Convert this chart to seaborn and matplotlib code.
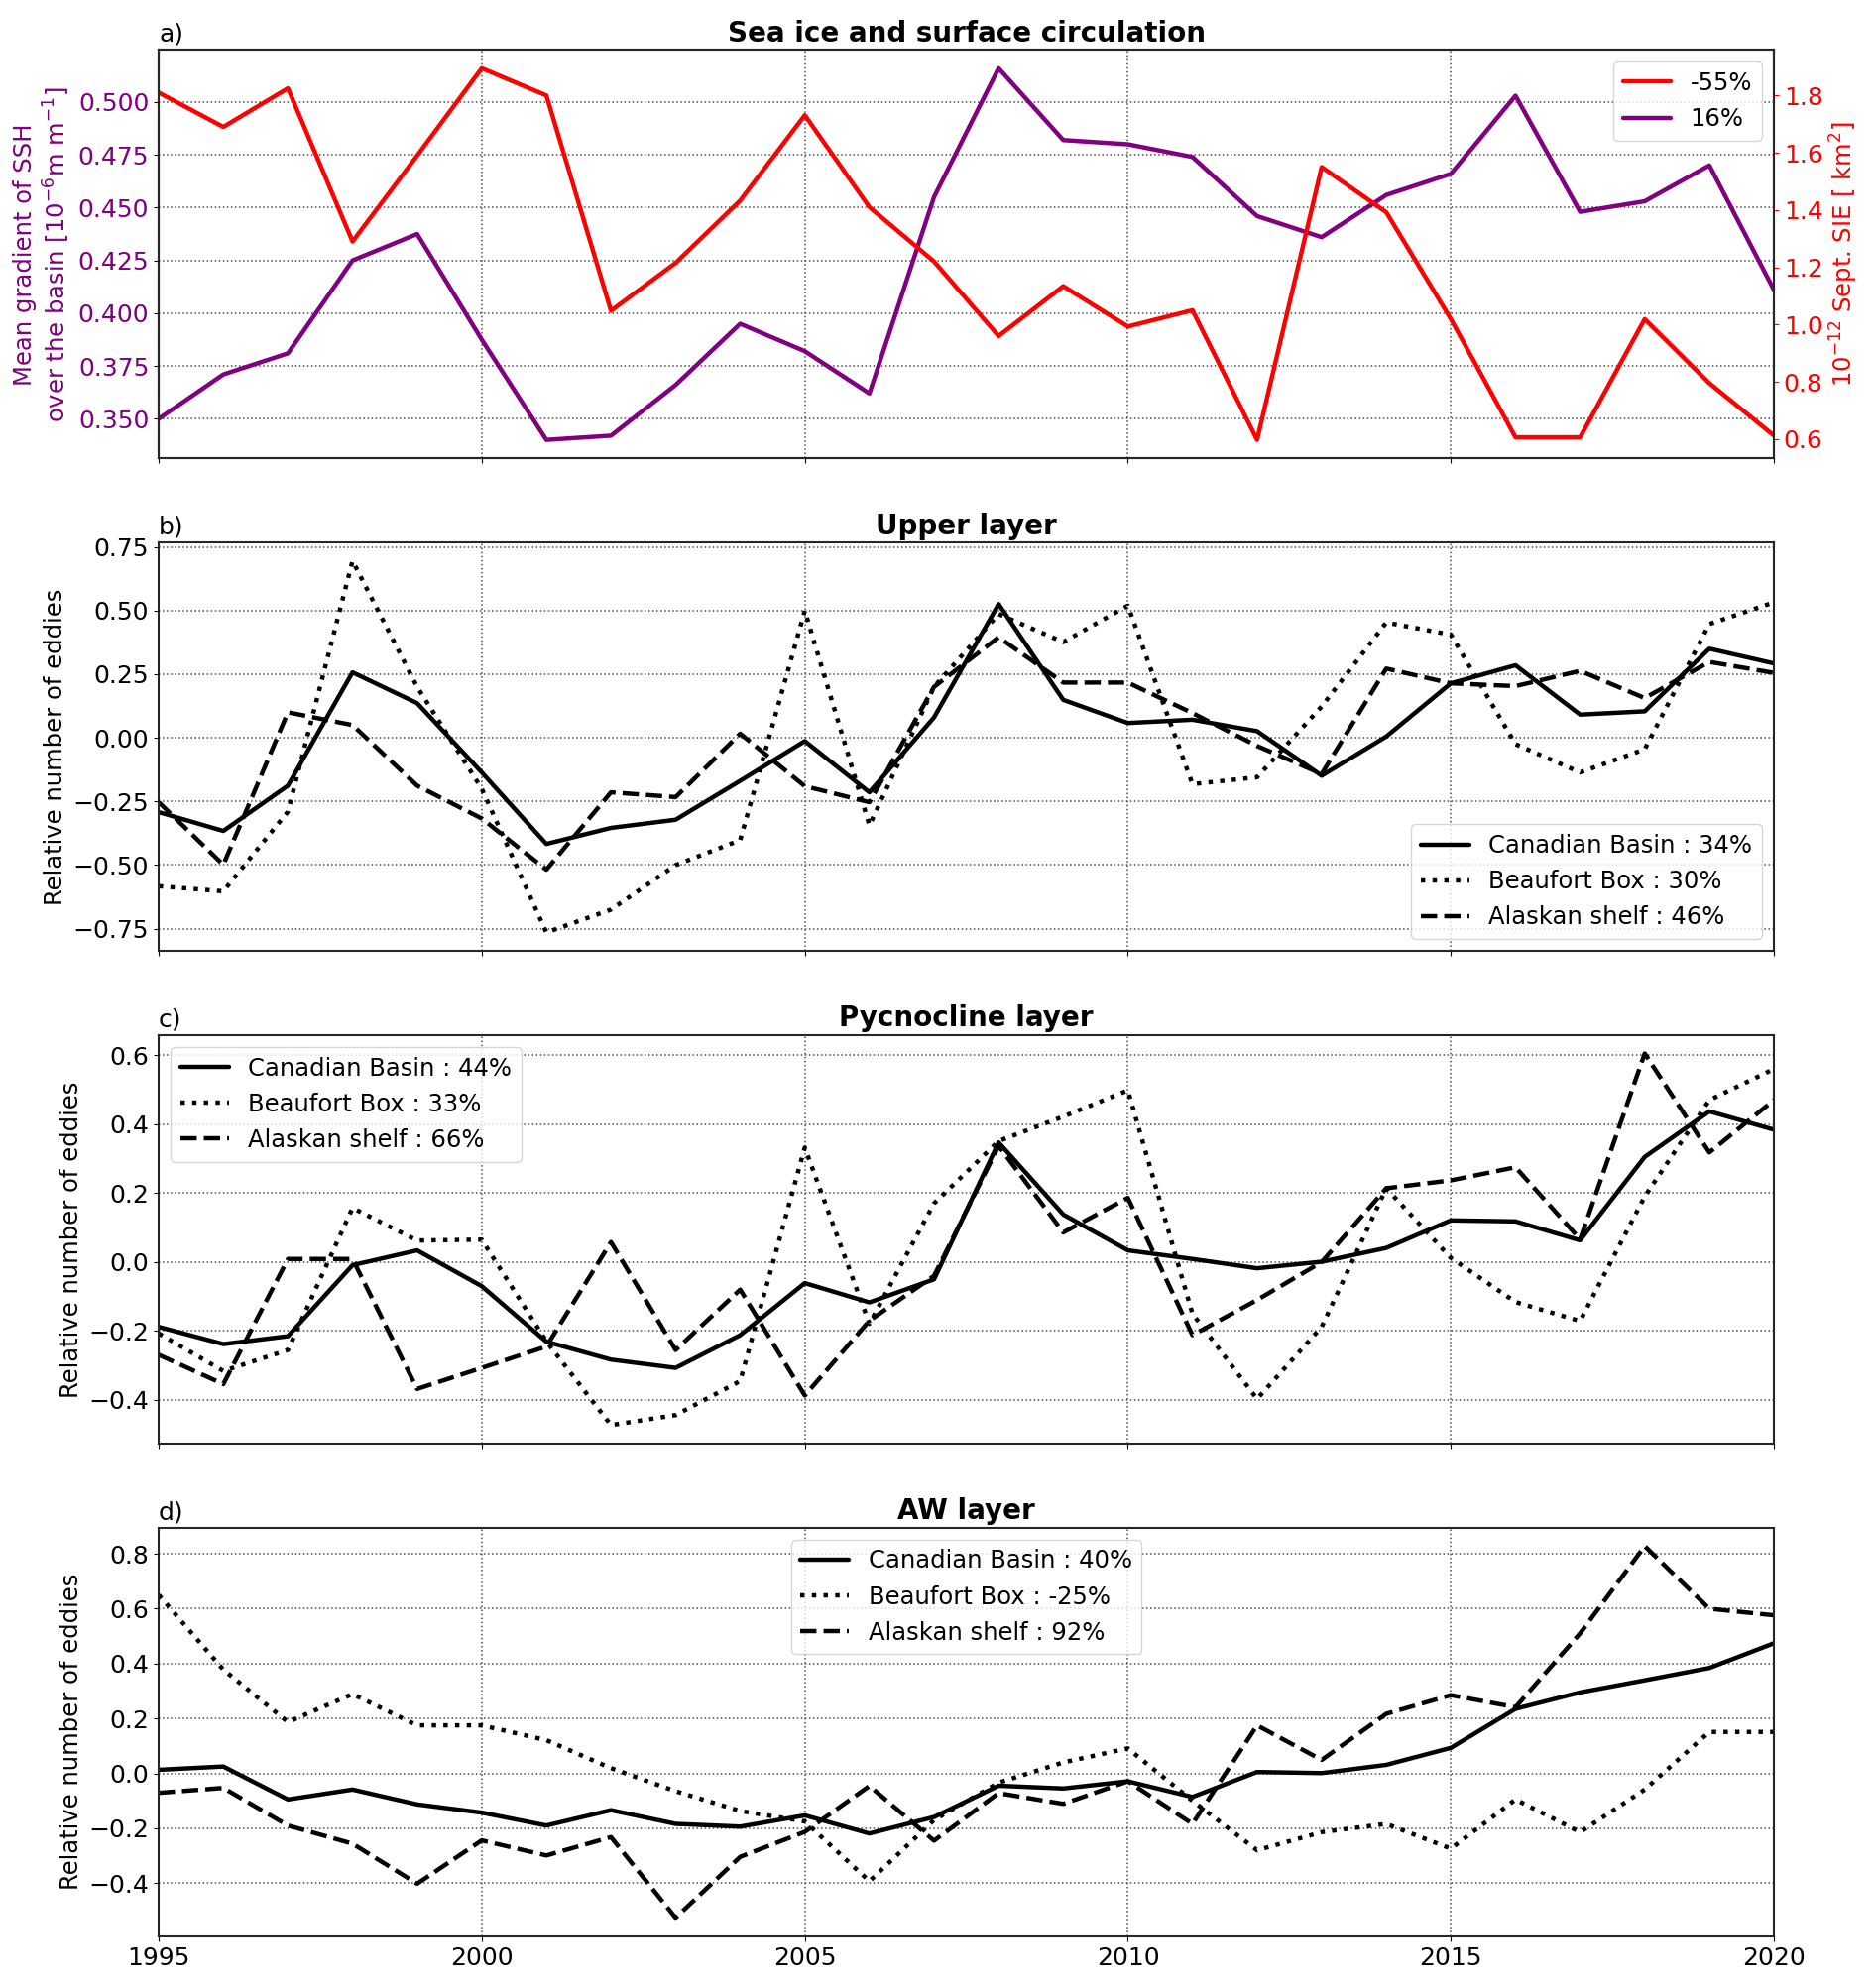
import matplotlib
matplotlib.use('Agg')
import matplotlib.pyplot as plt
from matplotlib.ticker import MultipleLocator
import seaborn as sns

# =========================
# DATA
# =========================

years = [1995, 1996, 1997, 1998, 1999, 2000, 2001, 2002, 2003, 2004, 2005, 2006, 2007,
         2008, 2009, 2010, 2011, 2012, 2013, 2014, 2015, 2016, 2017, 2018, 2019, 2020]

# a) sea ice and surface circulation
ssh_gradient = [0.350, 0.371, 0.381, 0.425, 0.4375, 0.3875, 0.340, 0.342, 0.366, 0.395, 0.382, 0.362, 0.455,
                0.516, 0.482, 0.480, 0.474, 0.446, 0.436, 0.456, 0.466, 0.503, 0.448, 0.453, 0.470, 0.411]
sept_sie = [1.81, 1.69, 1.825, 1.29, 1.59, 1.895, 1.80, 1.048, 1.215, 1.433, 1.731, 1.41, 1.22,
            0.96, 1.134, 0.993, 1.05, 0.597, 1.55, 1.392, 1.019, 0.606, 0.606, 1.019, 0.795, 0.612]
sie_label = '-55%'
ssh_label = '16%'

# b) upper layer
upper_cb = [-0.292, -0.366, -0.188, 0.257, 0.136, -0.136, -0.417, -0.354, -0.322, -0.169, -0.013, -0.214, 0.08,
            0.525, 0.149, 0.058, 0.071, 0.026, -0.149, 0.005, 0.214, 0.285, 0.091, 0.104, 0.350, 0.292]
upper_bb = [-0.583, -0.603, -0.29, 0.695, 0.20, -0.20, -0.765, -0.675, -0.50, -0.402, 0.499, -0.344, 0.20,
            0.486, 0.376, 0.519, -0.182, -0.155, 0.123, 0.453, 0.405, -0.025, -0.136, -0.045, 0.447, 0.532]
upper_as = [-0.253, -0.499, 0.100, 0.05, -0.188, -0.317, -0.518, -0.214, -0.233, 0.016, -0.19, -0.253, 0.20,
            0.395, 0.217, 0.217, 0.097, -0.032, -0.142, 0.272, 0.214, 0.203, 0.263, 0.156, 0.298, 0.255]
upper_labels = ['Canadian Basin : 34%', 'Beaufort Box : 30%', 'Alaskan shelf : 46%']

# c) pycnocline layer
pyc_cb = [-0.188, -0.238, -0.215, -0.009, 0.034, -0.070, -0.231, -0.283, -0.307, -0.212, -0.061, -0.117, -0.05,
          0.347, 0.138, 0.034, 0.009, -0.018, 0.001, 0.041, 0.121, 0.118, 0.063, 0.305, 0.437, 0.384]
pyc_bb = [-0.207, -0.316, -0.255, 0.157, 0.0625, 0.065, -0.23, -0.473, -0.444, -0.345, 0.332, -0.179, 0.17,
          0.351, 0.422, 0.498, -0.15, -0.397, -0.188, 0.214, 0.012, -0.116, -0.171, 0.19, 0.47, 0.56]
pyc_as = [-0.269, -0.354, 0.009, 0.009, -0.368, -0.307, -0.245, 0.058, -0.255, -0.080, -0.387, -0.17, -0.04,
          0.337, 0.086, 0.186, -0.212, -0.11, 0.0, 0.214, 0.237, 0.275, 0.066, 0.605, 0.318, 0.47]
pyc_labels = ['Canadian Basin : 44%', 'Beaufort Box : 33%', 'Alaskan shelf : 66%']

# d) AW layer
aw_cb = [0.013, 0.025, -0.095, -0.059, -0.113, -0.143, -0.190, -0.134, -0.184, -0.194, -0.153, -0.219, -0.159,
         -0.045, -0.055, -0.029, -0.086, 0.005, 0.001, 0.031, 0.093, 0.235, 0.295, 0.339, 0.384, 0.474]
aw_bb = [0.650, 0.378, 0.187, 0.289, 0.175, 0.175, 0.121, 0.019, -0.065, -0.137, -0.175, -0.393, -0.17,
         -0.034, 0.040, 0.091, -0.10, -0.280, -0.214, -0.184, -0.274, -0.095, -0.214, -0.059, 0.151, 0.151]
aw_as = [-0.071, -0.053, -0.190, -0.256, -0.402, -0.244, -0.299, -0.232, -0.526, -0.304, -0.213, -0.046, -0.245,
         -0.072, -0.111, -0.029, -0.184, 0.175, 0.049, 0.217, 0.285, 0.241, 0.51, 0.828, 0.600, 0.576]
aw_labels = ['Canadian Basin : 40%', 'Beaufort Box : -25%', 'Alaskan shelf : 92%']

# =========================
# STYLE
# =========================

sns.set_style('ticks')
plt.rcParams['font.family'] = ['DejaVu Sans']
plt.rcParams['font.size'] = 17.5
plt.rcParams['axes.titlesize'] = 18
plt.rcParams['axes.labelsize'] = 17.5
plt.rcParams['xtick.labelsize'] = 18
plt.rcParams['ytick.labelsize'] = 18
plt.rcParams['legend.fontsize'] = 17.5
plt.rcParams['text.color'] = 'black'
plt.rcParams['axes.labelcolor'] = 'black'
plt.rcParams['xtick.color'] = 'black'
plt.rcParams['ytick.color'] = 'black'

LW = 3.2

fig, axes = plt.subplots(4, 1, figsize=(18.92, 20.04), dpi=100, sharex=True)
fig.subplots_adjust(left=0.0846, right=0.9456, top=0.975, bottom=0.0255, hspace=0.205)


def style_ax(ax):
    ax.grid(True, linestyle=':', color='0.3', linewidth=1.1)
    for sp in ax.spines.values():
        sp.set_color('0.15')
        sp.set_linewidth(1.5)


# =========================
# WYKRES a) — Sea ice and surface circulation
# =========================

ax = axes[0]
ax2 = ax.twinx()
sns.lineplot(x=years, y=ssh_gradient, ax=ax, color='purple', linewidth=LW, legend=False)
sns.lineplot(x=years, y=sept_sie, ax=ax2, color='red', linewidth=LW, legend=False)

ax.set_ylabel('Mean gradient of SSH\nover the basin [$10^{-6}$m m$^{-1}$]', color='purple')
ax.tick_params(axis='y', labelcolor='purple')
ax2.set_ylabel('$10^{-12}$ Sept. SIE [ km$^2$]', color='red')
ax2.tick_params(axis='y', colors='red')
style_ax(ax)
ax2.grid(False)
for sp in ax2.spines.values():
    sp.set_color('0.15')
    sp.set_linewidth(1.5)

ax2.legend([ax2.lines[0], ax.lines[0]], [sie_label, ssh_label], loc='upper right')
ax.set_title('Sea ice and surface circulation', fontweight='bold', fontsize=20)
ax.set_title('a)', loc='left')

# =========================
# WYKRESY b) c) d) — eddies
# =========================

panels = [
    (axes[1], upper_cb, upper_bb, upper_as, upper_labels, 'Upper layer', 'b)', 'lower right', 0.25),
    (axes[2], pyc_cb, pyc_bb, pyc_as, pyc_labels, 'Pycnocline layer', 'c)', 'upper left', 0.2),
    (axes[3], aw_cb, aw_bb, aw_as, aw_labels, 'AW layer', 'd)', 'upper center', 0.2),
]

for ax, cb, bb, al, labels, title, tag, loc, step in panels:
    sns.lineplot(x=years, y=cb, ax=ax, color='black', linewidth=LW, linestyle='-', label=labels[0])
    sns.lineplot(x=years, y=bb, ax=ax, color='black', linewidth=LW, linestyle=':', label=labels[1])
    sns.lineplot(x=years, y=al, ax=ax, color='black', linewidth=LW, linestyle='--', label=labels[2])
    ax.yaxis.set_major_locator(MultipleLocator(step))
    ax.set_ylabel('Relative number of eddies')
    ax.legend(loc=loc)
    ax.set_title(title, fontweight='bold', fontsize=20)
    ax.set_title(tag, loc='left')
    style_ax(ax)

axes[-1].set_xlim(1995, 2020)
axes[-1].set_xticks([1995, 2000, 2005, 2010, 2015, 2020])

plt.savefig('out.png', dpi=100)
